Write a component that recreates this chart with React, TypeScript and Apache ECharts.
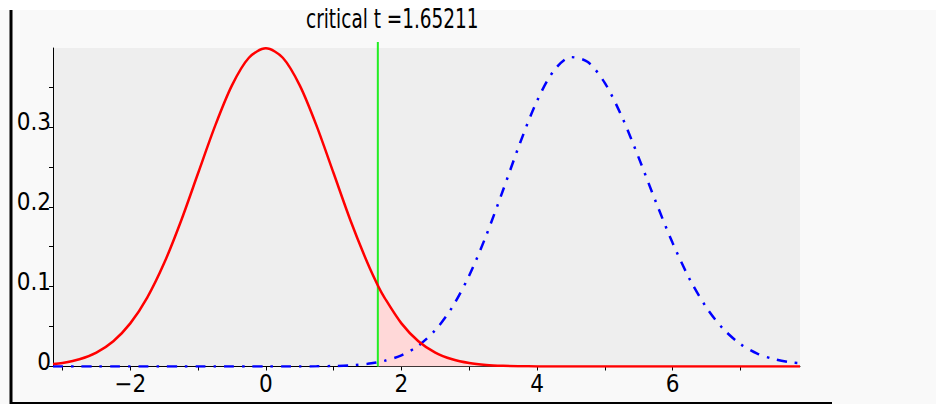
import React, { useEffect, useRef } from "react";
import * as echarts from "echarts";

// ---- data ----
const xValues = [
  -3.14, -3, -2.75, -2.5, -2.25, -2, -1.75, -1.5, -1.25, -1, -0.75, -0.5, -0.25,
  0, 0.25, 0.5, 0.75, 1, 1.25, 1.5, 1.65211, 1.75, 2, 2.25, 2.5, 2.75, 3, 3.25,
  3.5, 3.75, 4, 4.25, 4.5, 4.75, 5, 5.25, 5.5, 5.75, 6, 6.25, 6.5, 6.75, 7,
  7.25, 7.5, 7.75, 7.88,
];
// null distribution (red, solid)
const nullDensity = [
  0.0032, 0.0045, 0.0091, 0.0175, 0.0317, 0.054, 0.0863, 0.1295, 0.1826, 0.242,
  0.3011, 0.3521, 0.3867, 0.3985, 0.3867, 0.3521, 0.3011, 0.242, 0.1826, 0.1295,
  0.1015, 0.0863, 0.054, 0.0317, 0.0175, 0.0091, 0.0044, 0.002, 0.0009, 0.0004,
  0.0001, 0, 0, 0, 0, 0, 0, 0, 0, 0, 0, 0, 0, 0, 0, 0, 0,
];
// alternative distribution (blue, dash-dot)
const altDensity = [
  0, 0, 0, 0, 0, 0, 0, 0, 0, 0, 0, 0, 0, 0, 0, 0.0001, 0.0002, 0.0006, 0.0015,
  0.0034, 0.0054, 0.0071, 0.014, 0.0261, 0.0455, 0.0743, 0.1139, 0.1639, 0.221,
  0.2799, 0.3325, 0.3706, 0.3875, 0.3813, 0.3552, 0.3133, 0.2616, 0.2069,
  0.1549, 0.1098, 0.0738, 0.0469, 0.0282, 0.0161, 0.0092, 0.0052, 0.0043,
];
const criticalT = 1.65211;
const criticalLineTop = 0.4065;
const titleText = "critical t =1.65211";
const xMin = -3.14;
const xMax = 7.88;
const yMin = 0;
const yMax = 0.3989;
const xLabelValues = [-2, 0, 2, 4, 6];
const xTickValues = [-3, -2, -1, 0, 1, 2, 3, 4, 5, 6, 7];
const yLabelValues = [0, 0.1, 0.2, 0.3];
const yTickValues = [0, 0.05, 0.1, 0.15, 0.2, 0.25, 0.3, 0.35];

const FONT = "'DejaVu Sans Condensed', 'DejaVu Sans', sans-serif";

export default function App() {
  const ref = useRef<HTMLDivElement>(null);
  useEffect(() => {
    if (!ref.current) return;
    const chart = echarts.init(ref.current, null, { renderer: "svg" });
    const nullData = xValues.map((x, i) => [x, nullDensity[i]]);
    const altData = xValues.map((x, i) => [x, altDensity[i]]);
    const critIdx = xValues.indexOf(criticalT);
    const tailData = nullData.slice(critIdx);

    chart.setOption({
      animation: false,
      backgroundColor: "#ffffff",
      grid: {
        left: 53,
        right: 136,
        top: 48,
        bottom: 37.5,
        show: true,
        backgroundColor: "#eeeeee",
        borderWidth: 0,
        containLabel: false,
        outerBoundsMode: "none",
      },
      graphic: [
        { type: "rect", z: -10, shape: { x: 0, y: 10, width: 936, height: 394 }, style: { fill: "#f9f9f9" } },
        { type: "rect", z: 100, shape: { x: 9.5, y: 10, width: 3, height: 394 }, style: { fill: "#000" } },
        { type: "rect", z: 100, shape: { x: 10, y: 402, width: 822, height: 2 }, style: { fill: "#000" } },
        {
          type: "text", z: 100, x: 306, y: 19, scaleX: 0.79,
          style: { text: titleText, font: `26px ${FONT}`, fill: "#000", textAlign: "left", textVerticalAlign: "middle" },
        },
      ],
      xAxis: {
        type: "value",
        min: xMin,
        max: xMax,
        splitLine: { show: false },
        axisLine: { show: true, onZero: false, lineStyle: { color: "#000", width: 1 } },
        axisTick: { show: true, inside: false, length: 4, customValues: xTickValues, lineStyle: { color: "#000" } },
        axisLabel: {
          customValues: xLabelValues,
          margin: 5,
          color: "#000",
          fontFamily: FONT,
          fontSize: 24,
          formatter: (v: number) => (v < 0 ? "\u2212" + Math.abs(v) : String(v)),
        },
      },
      yAxis: {
        type: "value",
        min: yMin,
        max: yMax,
        splitLine: { show: false },
        axisLine: { show: true, onZero: false, lineStyle: { color: "#000", width: 1 } },
        axisTick: { show: true, inside: false, length: 4, customValues: yTickValues, lineStyle: { color: "#000" } },
        axisLabel: {
          customValues: yLabelValues,
          margin: 2,
          color: "#000",
          fontFamily: FONT,
          fontSize: 24,
          verticalAlign: "bottom",
          lineHeight: 10,
          formatter: (v: number) => String(v),
        },
      },
      series: [
        {
          type: "line",
          data: tailData,
          smooth: 0.3,
          showSymbol: false,
          lineStyle: { width: 0 },
          areaStyle: { color: "#ffd8d8", opacity: 1 },
          z: 1,
          silent: true,
        },
        {
          type: "line",
          data: [[criticalT, 0], [criticalT, criticalLineTop]],
          showSymbol: false,
          clip: false,
          lineStyle: { color: "#22ee22", width: 2 },
          z: 2,
        },
        {
          type: "line",
          data: altData,
          smooth: 0.3,
          showSymbol: false,
          lineStyle: { color: "#0000ff", width: 2.5, type: [10, 8, 2.5, 8] },
          z: 3,
        },
        {
          type: "line",
          data: nullData,
          smooth: 0.3,
          showSymbol: false,
          lineStyle: { color: "#ff0000", width: 2.5 },
          z: 4,
        },
      ],
    });
    return () => chart.dispose();
  }, []);
  return (
    <div
      ref={ref}
      style={{ position: "fixed", left: 0, top: 0, width: 936, height: 404 }}
    />
  );
}
